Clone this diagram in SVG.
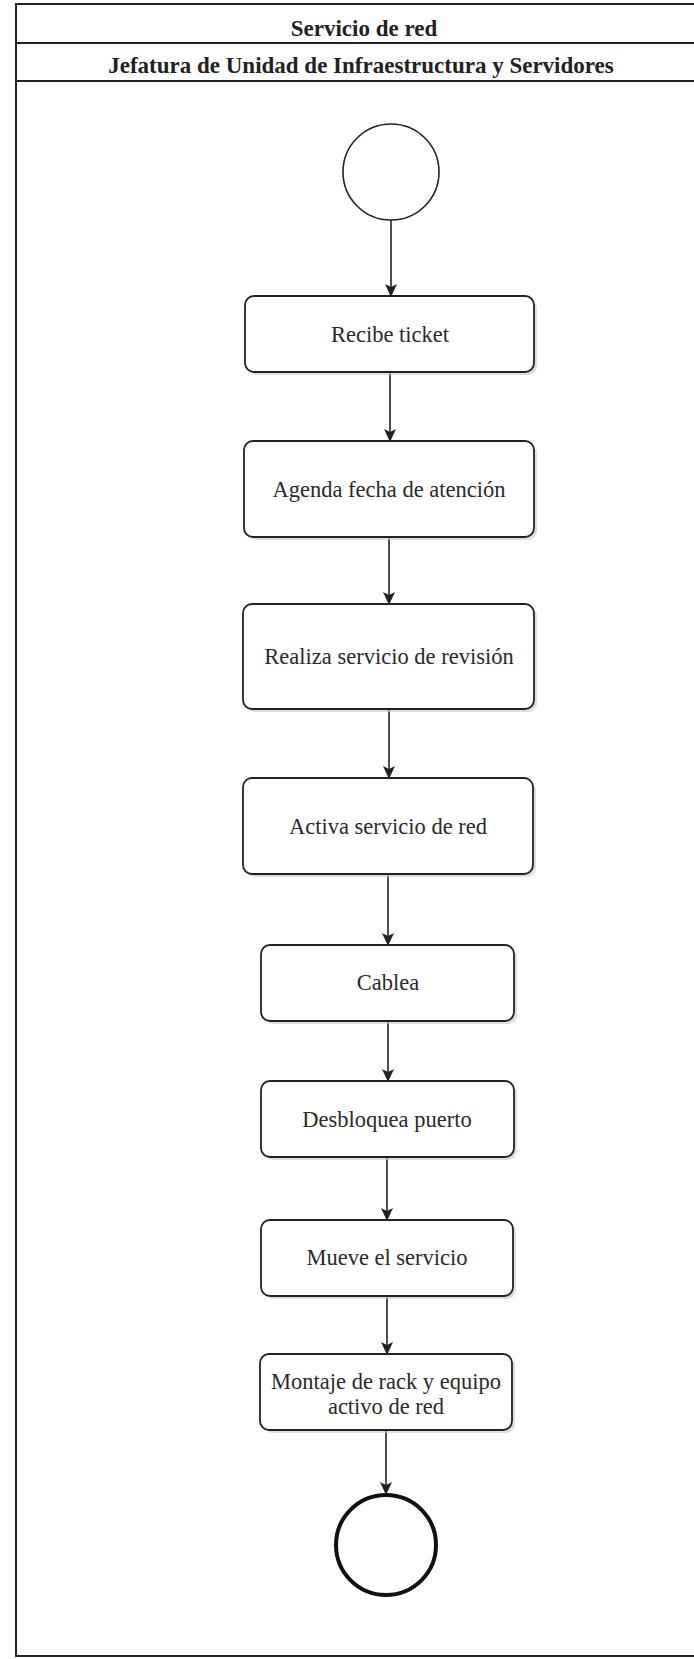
<svg xmlns="http://www.w3.org/2000/svg" width="694" height="1659" viewBox="0 0 694 1659">
<defs>
<style>
.frame{fill:none;stroke:#222;stroke-width:2}
.hdr{font-family:"Liberation Serif","Times New Roman",serif;font-weight:bold;font-size:23px;fill:#222;text-anchor:middle}
.box{fill:#fff;stroke:#222;stroke-width:1.8}
.shadow{fill:#c8c8c8;opacity:0.6}
.lbl{font-family:"Liberation Serif","Times New Roman",serif;font-size:22.5px;fill:#2a2a2a;text-anchor:middle}
.edge{stroke:#222;stroke-width:1.6;fill:none;marker-end:url(#arr)}
</style>
<marker id="arr" viewBox="0 0 13 12" refX="12" refY="6" markerWidth="13" markerHeight="12" markerUnits="userSpaceOnUse" orient="auto">
<path d="M0,0 L13,6 L0,12 L3,6 z" fill="#222"/>
</marker>
</defs>
<rect width="694" height="1659" fill="#fff"/>
<g id="pool">
<rect class="frame" x="16" y="4" width="690" height="1652"/>
<line class="frame" x1="16" y1="43" x2="694" y2="43"/>
<line class="frame" x1="16" y1="81" x2="694" y2="81"/>
<text class="hdr" x="364" y="36">Servicio de red</text>
<text class="hdr" x="361" y="73">Jefatura de Unidad de Infraestructura y Servidores</text>
</g>
<g id="connectors">
<line class="edge" x1="391" y1="220" x2="391" y2="296"/>
<line class="edge" x1="390" y1="372" x2="390" y2="441"/>
<line class="edge" x1="389" y1="537" x2="389" y2="604"/>
<line class="edge" x1="389" y1="709" x2="389" y2="778"/>
<line class="edge" x1="388" y1="874" x2="388" y2="945"/>
<line class="edge" x1="388" y1="1021" x2="388" y2="1081"/>
<line class="edge" x1="387" y1="1157" x2="387" y2="1220"/>
<line class="edge" x1="387" y1="1296" x2="387" y2="1354"/>
<line class="edge" x1="386" y1="1430" x2="386" y2="1494"/>
</g>
<g id="start">
<circle cx="391" cy="172" r="48" fill="#fff" stroke="#222" stroke-width="1.6"/>
</g>
<g id="n1">
<rect class="shadow" x="248" y="299" width="289" height="76" rx="9"/>
<rect class="box" x="245" y="296" width="289" height="76" rx="9"/>
<text class="lbl" x="390" y="342">Recibe ticket</text>
</g>
<g id="n2">
<rect class="shadow" x="247" y="444" width="290" height="96" rx="9"/>
<rect class="box" x="244" y="441" width="290" height="96" rx="9"/>
<text class="lbl" x="389" y="497">Agenda fecha de atención</text>
</g>
<g id="n3">
<rect class="shadow" x="246" y="607" width="291" height="105" rx="9"/>
<rect class="box" x="243" y="604" width="291" height="105" rx="9"/>
<text class="lbl" x="389" y="664">Realiza servicio de revisión</text>
</g>
<g id="n4">
<rect class="shadow" x="246" y="781" width="290" height="96" rx="9"/>
<rect class="box" x="243" y="778" width="290" height="96" rx="9"/>
<text class="lbl" x="388" y="834">Activa servicio de red</text>
</g>
<g id="n5">
<rect class="shadow" x="264" y="948" width="253" height="76" rx="9"/>
<rect class="box" x="261" y="945" width="253" height="76" rx="9"/>
<text class="lbl" x="388" y="990">Cablea</text>
</g>
<g id="n6">
<rect class="shadow" x="264" y="1084" width="253" height="76" rx="9"/>
<rect class="box" x="261" y="1081" width="253" height="76" rx="9"/>
<text class="lbl" x="387" y="1127">Desbloquea puerto</text>
</g>
<g id="n7">
<rect class="shadow" x="264" y="1223" width="252" height="76" rx="9"/>
<rect class="box" x="261" y="1220" width="252" height="76" rx="9"/>
<text class="lbl" x="387" y="1265">Mueve el servicio</text>
</g>
<g id="n8">
<rect class="shadow" x="263" y="1357" width="252" height="76" rx="9"/>
<rect class="box" x="260" y="1354" width="252" height="76" rx="9"/>
<text class="lbl" x="386" y="1389">Montaje de rack y equipo</text>
<text class="lbl" x="386" y="1414">activo de red</text>
</g>
<g id="end">
<circle cx="386" cy="1545" r="50" fill="#fff" stroke="#111" stroke-width="4"/>
</g>
</svg>
